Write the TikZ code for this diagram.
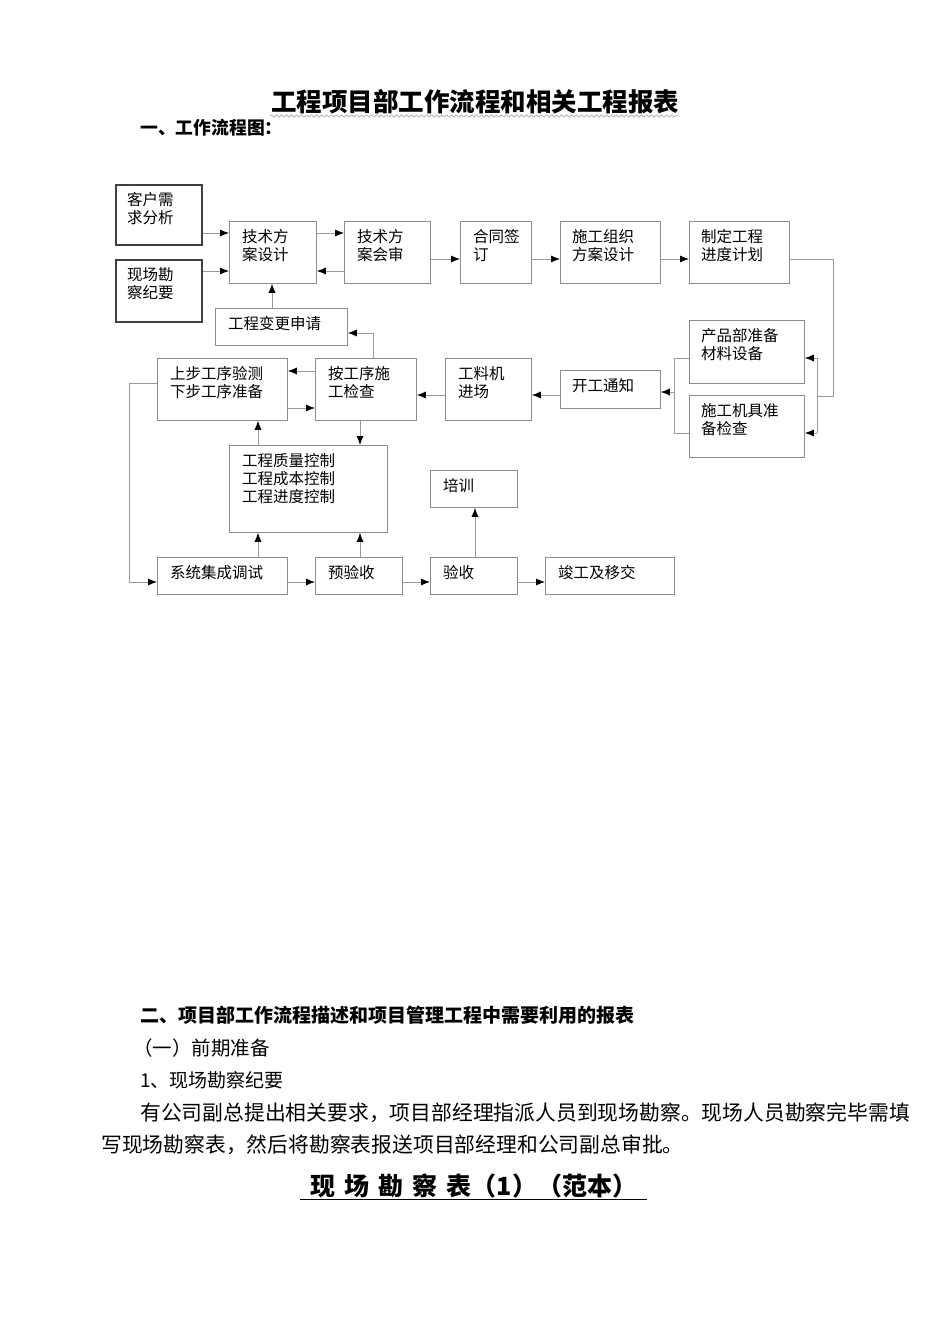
\documentclass[tikz,border=0pt]{standalone}
\usepackage{fontspec}
\setmainfont{Noto Sans CJK SC}
\usetikzlibrary{arrows.meta,decorations.pathmorphing}
\begin{document}
\begin{tikzpicture}[x=1pt,y=-1pt,
  box/.style={draw=black!45,line width=0.8pt,inner sep=0,anchor=north west},
  tbox/.style={draw=black!75,line width=1.6pt,inner sep=0,anchor=north west},
  lbl/.style={anchor=north west,font=\fontsize{15.5}{18}\selectfont,align=left,inner sep=0},
  ln/.style={draw=black!40,line width=0.8pt},
  ar/.style={ln,-{Latex[black,length=9pt,width=7pt]}}]
\useasboundingbox[fill=white] (0,0) rectangle (950,1344);
\newcommand{\bx}[8]{\node[#1,minimum width=#4,minimum height=#5] (#2) at (#3) {};
  \node[lbl] (#2t) at ([xshift=#6,yshift=#7]#2.north west) {#8};}
\bx{tbox}{A}{115,184}{86}{60}{12}{-8}{客户需\\求分析}
\bx{tbox}{B}{115,259}{86}{62}{12}{-8}{现场勘\\察纪要}
\bx{box}{C}{229,221}{87}{62}{13}{-8}{技术方\\案设计}
\bx{box}{D}{344,221}{86}{62}{13}{-8}{技术方\\案会审}
\bx{box}{E}{460,221}{71}{62}{13}{-8}{合同签\\订}
\bx{box}{F}{560,221}{100}{62}{12}{-8}{施工组织\\方案设计}
\bx{box}{G}{689,221}{100}{62}{12}{-8}{制定工程\\进度计划}
\bx{box}{H}{215,308}{132}{37}{13}{-8}{工程变更申请}
\bx{box}{I}{689,320}{115}{63}{12}{-8}{产品部准备\\材料设备}
\bx{box}{J}{689,395}{115}{62}{12}{-8}{施工机具准\\备检查}
\bx{box}{K}{560,370}{100}{38}{12}{-8}{开工通知}
\bx{box}{L}{445,358}{86}{62}{13}{-8}{工料机\\进场}
\bx{box}{M}{315,358}{101}{62}{13}{-8}{按工序施\\工检查}
\bx{box}{N}{157,358}{130}{62}{13}{-8}{上步工序验测\\下步工序准备}
\bx{box}{O}{229,445}{158}{87}{13}{-8}{工程质量控制\\工程成本控制\\工程进度控制}
\bx{box}{P}{430,470}{87}{37}{13}{-8}{培训}
\bx{box}{Q}{157,557}{130}{37}{13}{-8}{系统集成调试}
\bx{box}{R}{315,557}{87}{37}{13}{-8}{预验收}
\bx{box}{S}{430,557}{87}{37}{13}{-8}{验收}
\bx{box}{T}{545,557}{129}{37}{13}{-8}{竣工及移交}
% connectors
\draw[ar] (A.east|-0,233) -- (C.west|-0,233);
\draw[ar] (B.east|-0,271) -- (C.west|-0,271);
\draw[ar] (C.east|-0,233) -- (D.west|-0,233);
\draw[ar] (D.west|-0,271) -- (C.east|-0,271);
\draw[ar] (D.east|-0,259) -- (E.west|-0,259);
\draw[ar] (E.east|-0,259) -- (F.west|-0,259);
\draw[ar] (F.east|-0,259) -- (G.west|-0,259);
\coordinate (g1) at (833,259); \coordinate (g2) at (833,396); \coordinate (g3) at (817,396);
\coordinate (g4) at (817,358); \coordinate (g5) at (817,433);
\draw[ln] (G.east|-g1) -- (g1) -- (g2) -- (g3);
\draw[ln] (g4) -- (g5);
\draw[ar] (g4) -- (I.east|-g4);
\draw[ar] (g5) -- (J.east|-g5);
\coordinate (k1) at (674,358); \coordinate (k2) at (674,433); \coordinate (k3) at (674,392);
\draw[ln] (I.west|-k1) -- (k1) -- (k2) -- (J.west|-k2);
\draw[ar] (k3) -- (K.east|-k3);
\draw[ar] (K.west|-0,395) -- (L.east|-0,395);
\draw[ar] (L.west|-0,395) -- (M.east|-0,395);
\draw[ar] (M.west|-0,371) -- (N.east|-0,371);
\draw[ar] (N.east|-0,408) -- (M.west|-0,408);
\coordinate (m1) at (373,333);
\draw[ar] (M.north-|m1) -- (m1) -- (H.east|-m1);
\draw[ar] (H.north-|272,0) -- (C.south-|272,0);
\draw[ar] (M.south-|360,0) -- (O.north-|360,0);
\draw[ar] (O.north-|258,0) -- (N.south-|258,0);
\draw[ar] (Q.north-|258,0) -- (O.south-|258,0);
\draw[ar] (R.north-|360,0) -- (O.south-|360,0);
\coordinate (n1) at (129,383); \coordinate (n2) at (129,582);
\draw[ar] (N.west|-n1) -- (n1) -- (n2) -- (Q.west|-n2);
\draw[ar] (Q.east|-0,582) -- (R.west|-0,582);
\draw[ar] (R.east|-0,582) -- (S.west|-0,582);
\draw[ar] (S.east|-0,582) -- (T.west|-0,582);
\draw[ar] (S.north-|475,0) -- (P.south-|475,0);
% texts
\node[font=\bfseries\fontsize{25.5}{28}\selectfont,inner sep=0] (title) at (475,102) {工程项目部工作流程和相关工程报表};
\draw[black!40,line width=0.5pt,decorate,decoration={snake,amplitude=1.2pt,segment length=5pt}] (270,116) -- (680,116);
\node[font=\bfseries\fontsize{17.8}{20}\selectfont,anchor=west,inner sep=0] (s1) at (140,128) {一、工作流程图：};
\node[font=\bfseries\fontsize{19}{22}\selectfont,anchor=west,inner sep=0] (s2) at (140,1015) {二、项目部工作流程描述和项目管理工程中需要利用的报表};
\node[font=\fontsize{19.5}{22}\selectfont,anchor=west,inner sep=0] (s3) at (133,1048) {（一）前期准备};
\node[font=\fontsize{19}{22}\selectfont,anchor=west,inner sep=0] (s4) at (140,1080) {1、现场勘察纪要};
\node[font=\fontsize{20.8}{24}\selectfont,anchor=west,inner sep=0] (p1) at (140,1113) {有公司副总提出相关要求，项目部经理指派人员到现场勘察。现场人员勘察完毕需填};
\node[font=\fontsize{20.8}{24}\selectfont,anchor=west,inner sep=0] (p2) at (101,1145) {写现场勘察表，然后将勘察表报送项目部经理和公司副总审批。};
\node[font=\bfseries\fontsize{25}{28}\selectfont,inner sep=0] (t2) at (474,1186) {现\hspace{9pt}场\hspace{9pt}勘\hspace{9pt}察\hspace{9pt}表（1）（范本）};
\draw[black,line width=1pt] (300,1199) -- (647,1199);
\end{tikzpicture}
\end{document}
